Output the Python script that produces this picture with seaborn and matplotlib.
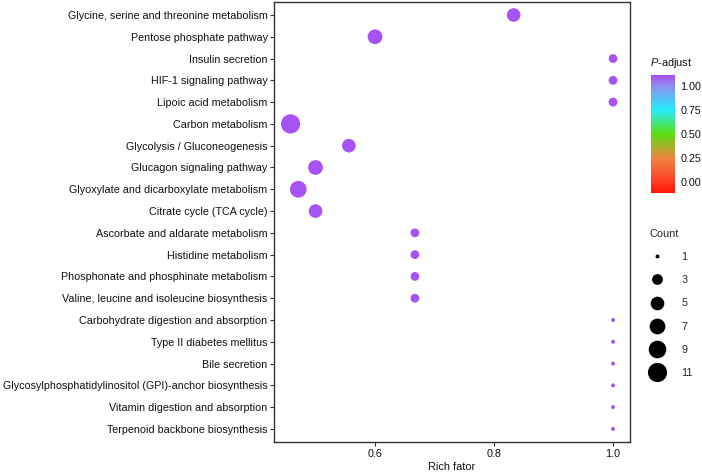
import matplotlib
matplotlib.use('Agg')
import matplotlib.pyplot as plt
import seaborn as sns
import numpy as np
import pandas as pd
from matplotlib.colors import LinearSegmentedColormap, Normalize
from matplotlib.lines import Line2D

# Pathway enrichment results, listed top to bottom as in the chart
pathways = [
    'Glycine, serine and threonine metabolism',
    'Pentose phosphate pathway',
    'Insulin secretion',
    'HIF-1 signaling pathway',
    'Lipoic acid metabolism',
    'Carbon metabolism',
    'Glycolysis / Gluconeogenesis',
    'Glucagon signaling pathway',
    'Glyoxylate and dicarboxylate metabolism',
    'Citrate cycle (TCA cycle)',
    'Ascorbate and aldarate metabolism',
    'Histidine metabolism',
    'Phosphonate and phosphinate metabolism',
    'Valine, leucine and isoleucine biosynthesis',
    'Carbohydrate digestion and absorption',
    'Type II diabetes mellitus',
    'Bile secretion',
    'Glycosylphosphatidylinositol (GPI)-anchor biosynthesis',
    'Vitamin digestion and absorption',
    'Terpenoid backbone biosynthesis',
]
rich_factor = [0.833, 0.6, 1.0, 1.0, 1.0, 0.458, 0.556, 0.5, 0.471, 0.5,
               0.667, 0.667, 0.667, 0.667, 1.0, 1.0, 1.0, 1.0, 1.0, 1.0]
count = [5, 6, 2, 2, 2, 11, 5, 6, 8, 5,
         2, 2, 2, 2, 1, 1, 1, 1, 1, 1]
p_adjust = [1.1] * 20

legend_counts = [1, 3, 5, 7, 9, 11]
cbar_ticks = [0.0, 0.25, 0.5, 0.75, 1.0]

df = pd.DataFrame({'Pathway': pathways, 'RichFactor': rich_factor,
                   'Count': count, 'Padj': p_adjust})

sns.set_style("white")
plt.rcParams['font.family'] = ['Liberation Sans', 'DejaVu Sans']
plt.rcParams['mathtext.fontset'] = 'custom'
plt.rcParams['mathtext.it'] = 'Liberation Sans:italic'
plt.rcParams['mathtext.rm'] = 'Liberation Sans'

FS = 7.75


def marker_area(v):
    # ggplot-like area scale: diameter grows with sqrt of the count
    size = 1 + 5 * np.sqrt((v - 1) / 10.0)
    d_px = 3.05 * size + 0.9
    return (d_px * 0.72) ** 2


vmin, vmax = -0.11, 1.11
nodes = [(-0.11, '#ff1500'), (0.0, '#ff3b22'), (0.25, '#ee8540'),
         (0.5, '#5ade12'), (0.75, '#27ecfa'), (1.0, '#8f8eef'), (1.11, '#a84cf5')]
cmap = LinearSegmentedColormap.from_list(
    'padj', [((v - vmin) / (vmax - vmin), c) for v, c in nodes])
norm = Normalize(vmin=vmin, vmax=vmax)

fig = plt.figure(figsize=(7.02, 4.74), dpi=100)
ax = fig.add_axes([0.391, 0.0675, 0.506, 0.9285])

size_map = {c: marker_area(c) for c in sorted(set(count))}
sns.scatterplot(data=df, x='RichFactor', y='Pathway', size='Count', sizes=size_map,
                hue='Padj', palette=cmap, hue_norm=norm, legend=False,
                edgecolor='none', ax=ax)

ax.set_ylim(len(pathways) - 0.4, -0.6)
ax.set_xlim(0.431, 1.028)
ax.set_xticks([0.6, 0.8, 1.0])
ax.set_xticklabels(['0.6', '0.8', '1.0'])
ax.set_ylabel('')
ax.set_xlabel('Rich fator', fontsize=FS + 0.2, color='#111111', labelpad=2)
for s in ax.spines.values():
    s.set_color('#333333')
    s.set_linewidth(1.0)
ax.tick_params(axis='both', labelsize=FS, colors='#333333', labelcolor='#111111',
               length=3, width=0.8, left=True, bottom=True, pad=2)

# colour bar for P-adjust
cax = fig.add_axes([0.927, 0.593, 0.034, 0.249])
sm = plt.cm.ScalarMappable(cmap=cmap, norm=norm)
cb = fig.colorbar(sm, cax=cax, ticks=cbar_ticks)
cb.outline.set_visible(False)
cb.ax.set_yticklabels([f'{t:.2f}' for t in cbar_ticks])
cb.ax.tick_params(labelsize=FS, direction='in', color='white', length=4,
                  width=0.8, left=True, right=True, pad=4, labelcolor='#111111')
fig.text(0.926, 0.853, r'$P$-adjust', fontsize=FS + 0.2, color='#111111',
         ha='left', va='bottom')

# size legend for Count
handles = [Line2D([], [], marker='o', linestyle='none', color='black',
                  markeredgewidth=0, markersize=np.sqrt(marker_area(c)))
           for c in legend_counts]
fig.legend(handles, [str(c) for c in legend_counts], title='Count',
           loc='upper left', bbox_to_anchor=(0.911, 0.538), frameon=False,
           fontsize=FS, title_fontsize=FS + 0.2, labelspacing=1.23,
           handletextpad=1.5, handlelength=1.5, alignment='left')

plt.savefig('out.png', dpi=100)
